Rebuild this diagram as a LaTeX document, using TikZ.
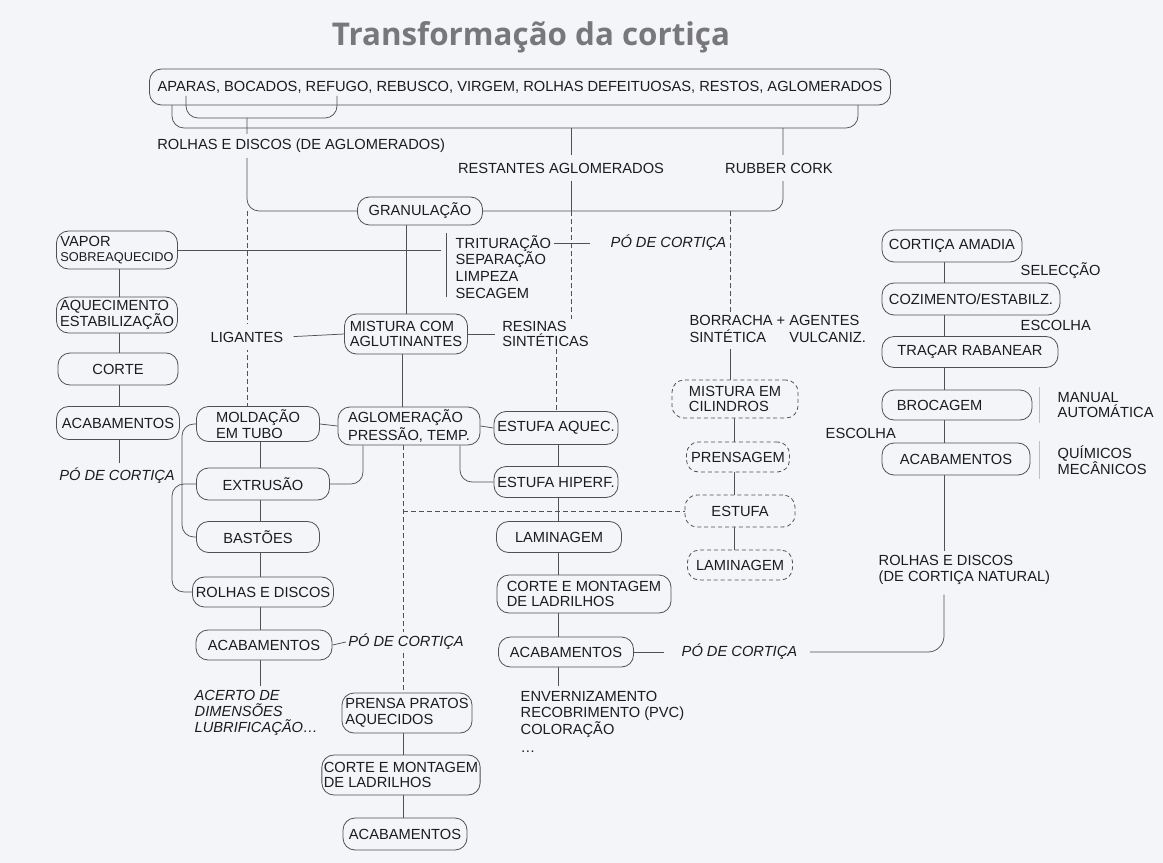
\documentclass[tikz,border=0pt]{standalone}
\usepackage{fontspec}
\setmainfont{Liberation Sans}
\newfontfamily\titlefont{Open Sans}
\usetikzlibrary{calc}
\definecolor{bg}{RGB}{244,245,248}
\definecolor{ink}{RGB}{28,28,30}
\definecolor{linec}{RGB}{80,80,85}
\definecolor{titlec}{RGB}{120,120,122}
\definecolor{faintc}{RGB}{190,190,195}
\pgfdeclarelayer{paper}
\pgfdeclarelayer{background}
\pgfsetlayers{paper,background,main}
\begin{document}
\begin{tikzpicture}[x=0.75pt,y=-0.75pt,
  every node/.style={font=\fontsize{11}{11.8}\selectfont, text=ink},
  box/.style={draw=linec, line width=0.6pt, rounded corners=9pt, inner xsep=2.5pt, inner ysep=1pt, fill=bg},
  dbox/.style={box, dash pattern=on 3pt off 2.2pt},
  wh/.style 2 args={minimum width=#1*0.75pt, minimum height=#2*0.75pt},
  lbl/.style={inner sep=1.5pt, fill=bg},
  it/.style={font=\fontsize{11}{11.8}\selectfont\itshape},
  con/.style={draw=linec, line width=0.55pt},
  dcon/.style={con, dash pattern=on 3.5pt off 2.5pt},
  faint/.style={draw=faintc, line width=0.6pt},
  rc/.style={rounded corners=9pt},
]
\begin{pgfonlayer}{paper}
\fill[bg] (0,0) rectangle (1163,863);
\end{pgfonlayer}
\useasboundingbox (0,0) rectangle (1163,863);

% title
\node[font=\titlefont\bfseries\fontsize{23.5}{27}\selectfont, text=titlec, anchor=base] (title) at (531,46) {Transformação da cortiça};

% nodes
\node[box, wh={741}{36}] (top) at (520,87) {APARAS, BOCADOS, REFUGO, REBUSCO, VIRGEM, ROLHAS DEFEITUOSAS, RESTOS, AGLOMERADOS};
\node[lbl, anchor=west, inner ysep=4pt] (rdAg) at (155,146) {ROLHAS E DISCOS (DE AGLOMERADOS)};
\node[lbl, inner ysep=6pt] (rest) at (561,168) {RESTANTES AGLOMERADOS};
\node[lbl, inner ysep=6pt] (rubber) at (779,168) {RUBBER CORK};
\node[box, wh={125}{28}] (gran) at (420,211) {GRANULAÇÃO};
\node[box, wh={121}{38}, align=left] (vapor) at (117,250) {VAPOR\\{\fontsize{9.6}{10}\selectfont SOBREAQUECIDO}};
\node[anchor=west, align=left, font=\fontsize{11}{12.6}\selectfont] (trit) at (451,267) {TRITURAÇÃO\\SEPARAÇÃO\\LIMPEZA\\SECAGEM};
\node[it, anchor=west] (pdc1) at (606,243) {PÓ DE CORTIÇA};
\node[box, wh={121}{36}, align=left] (aquec) at (117,315) {AQUECIMENTO\\ESTABILIZAÇÃO};
\node[lbl, inner ysep=6pt] (lig) at (247,337) {LIGANTES};
\node[box, wh={123}{40}, align=left] (mist) at (406,334) {MISTURA COM\\AGLUTINANTES};
\node[lbl, anchor=west, align=left] (resinas) at (500,334) {RESINAS\\SINTÉTICAS};
\node[anchor=west, inner sep=1pt] (borr) at (688,331) {\begin{tabular}{@{}l@{\hspace{3pt}}c@{\hspace{3pt}}l@{}}BORRACHA&+&AGENTES\\SINTÉTICA&&VULCANIZ.\end{tabular}};
\node[box, wh={120}{32}] (corte) at (118,369) {CORTE};
\node[box, wh={123}{33}] (acabL) at (118,423) {ACABAMENTOS};
\node[it] (pdc2) at (117,476) {PÓ DE CORTIÇA};
\node[box, wh={123}{35}, align=left] (mold) at (258,424) {MOLDAÇÃO\\EM TUBO};
\node[box, wh={142}{38}, align=left] (aglom) at (409,426) {AGLOMERAÇÃO\\PRESSÃO, TEMP.};
\node[box, wh={122}{33}] (estA) at (556,428) {ESTUFA AQUEC.};
\node[dbox, wh={126}{38}, align=left] (cil) at (735,399) {MISTURA EM\\CILINDROS};
\node[box, wh={140}{32}] (amadia) at (952,246) {CORTIÇA AMADIA};
\node[anchor=west] (selec) at (1016,271) {SELECÇÃO};
\node[box, wh={178}{32}] (coz) at (971,299) {COZIMENTO/ESTABILZ.};
\node[anchor=west] (esc1) at (1016,325) {ESCOLHA};
\node[box, wh={176}{31}] (tracar) at (970,352) {TRAÇAR RABANEAR};
\node[box, wh={150}{30}] (broc) at (957,405) {BROCAGEM\hspace*{26pt}};
\node[anchor=west, align=left] (manual) at (1053,405) {MANUAL\\AUTOMÁTICA};
\node[anchor=west] (esc2) at (821,433) {ESCOLHA};
\node[box, wh={148}{32}] (acabR) at (956,459) {ACABAMENTOS};
\node[anchor=west, align=left] (quim) at (1053,460) {QUÍMICOS\\MECÂNICOS};
\node[box, wh={133}{32}] (extr) at (263,484) {EXTRUSÃO};
\node[box, wh={122}{31}] (estH) at (556,482) {ESTUFA HIPERF.};
\node[dbox, wh={103}{30}] (prens) at (738,457) {PRENSAGEM};
\node[dbox, wh={110}{32}] (estufa) at (740,511) {ESTUFA};
\node[box, wh={123}{31}] (bast) at (258,537) {BASTÕES};
\node[box, wh={125}{31}] (lam) at (559,537) {LAMINAGEM};
\node[dbox, wh={105}{30}] (lamD) at (740,565) {LAMINAGEM};
\node[box, wh={140}{30}] (rolhas) at (263,592) {ROLHAS E DISCOS};
\node[box, wh={174}{38}, align=left] (cm1) at (584,594) {CORTE E MONTAGEM\\DE LADRILHOS};
\node[anchor=west, align=left] (rnat) at (874,570) {ROLHAS E DISCOS\\(DE CORTIÇA NATURAL)};
\node[box, wh={136}{30}] (acab2) at (264,645) {ACABAMENTOS};
\node[lbl, it, anchor=west] (pdc3) at (346,642) {PÓ DE CORTIÇA};
\node[box, wh={135}{30}] (acab3) at (566,652) {ACABAMENTOS};
\node[it, anchor=west] (pdc4) at (677,652) {PÓ DE CORTIÇA};
\node[it, anchor=west, align=left] (acerto) at (190,713) {ACERTO DE\\DIMENSÕES\\LUBRIFICAÇÃO…};
\node[box, wh={129}{40}, align=left] (prensa) at (407,713) {PRENSA PRATOS\\AQUECIDOS};
\node[anchor=west, align=left] (env) at (516,722) {ENVERNIZAMENTO\\RECOBRIMENTO (PVC)\\COLORAÇÃO\\[2pt]…};
\node[box, wh={157}{40}, align=left, inner xsep=1.5pt] (cm2) at (401,775) {CORTE E MONTAGEM\\DE LADRILHOS};
\node[box, wh={124}{32}] (acab4) at (405,834) {ACABAMENTOS};

% helper coordinates
\coordinate (ibL) at (186,96);
\coordinate (ibB) at (260,118);
\coordinate (ibR) at (337,96);
\coordinate (obL) at (172,105);
\coordinate (obB) at (520,128);
\coordinate (obR) at (858,105);
\coordinate (vend) at (441,0);
\coordinate (barT) at (446,233);
\coordinate (barB) at (446,297);
\coordinate (tl1) at (554,243);
\coordinate (tl2) at (590,243);
\coordinate (c119) at (119,0);
\coordinate (c172) at (172,0);
\coordinate (c182) at (182,0);
\coordinate (c247) at (247,0);
\coordinate (c260) at (260,0);
\coordinate (c363) at (363,0);
\coordinate (c402) at (402,0);
\coordinate (c403) at (403,0);
\coordinate (c460) at (460,0);
\coordinate (c558) at (558,0);
\coordinate (c571) at (571,0);
\coordinate (c730) at (730,0);
\coordinate (c734) at (734,0);
\coordinate (c783) at (783,0);
\coordinate (c944) at (944,0);

% inner bracket over the box bottom
\draw[con,rc] (ibL) |- (ibB) -| (ibR);

\begin{pgfonlayer}{background}
\draw[con,rc] (obL) |- (obB) -| (obR);
\draw[con,rc] (c247 |- ibB) |- (gran.west);
\draw[dcon] (c247 |- gran.west) -- (c247 |- mold.north);
\draw[con] (c571 |- obB) -- (c571 |- gran.east);
\draw[con,rc] (c783 |- obB) |- (gran.east);
\draw[dcon] (c571 |- gran.east) -- (c571 |- resinas.north);
\draw[dcon] (c730 |- gran.east) -- (c730 |- borr.north);
\draw[con] (mist.north |- gran.south) -- (mist.north);
\draw[con] (vapor.east) -- (vend |- vapor.east);
\draw[con] (barT) -- (barB);
\draw[con] (tl1) -- (tl2);
\draw[con, shorten <=6pt] (lig.east) -- (mist.west);
\draw[con, shorten >=4pt] (mist.east) -- (resinas.west);
\draw[con] (c402 |- mist.south) -- (c402 |- aglom.north);
\draw[dcon] (estA.north |- resinas.south) -- (estA.north);
\draw[con] (mold.east) -- (aglom.west);
\draw[con] (aglom.east) -- (estA.west);
\draw[con,rc] (c363 |- aglom.south) |- (extr.east);
\draw[con,rc] (c460 |- aglom.south) |- (estH.west);
\draw[dcon] (c403 |- aglom.south) -- (c403 |- prensa.north);
\draw[dcon] (c403 |- estufa.west) -- (estufa.west);
% left column
\draw[con] (vapor.south -| c119) -- (aquec.north -| c119);
\draw[con] (aquec.south -| c119) -- (corte.north -| c119);
\draw[con] (corte.south -| c119) -- (acabL.north -| c119);
\draw[con] (acabL.south -| c119) -- (pdc2.north -| c119);
% brackets on the left
\draw[con,rc] (mold.west) -| (c182 |- bast.west) -- (bast.west);
\draw[con,rc] (extr.west) -| (c172 |- rolhas.west) -- (rolhas.west);
% column 260
\draw[con] (mold.south -| c260) -- (extr.north -| c260);
\draw[con] (extr.south -| c260) -- (bast.north -| c260);
\draw[con] (bast.south -| c260) -- (rolhas.north -| c260);
\draw[con] (rolhas.south -| c260) -- (acab2.north -| c260);
\draw[con] (acab2.south -| c260) -- (acerto.north -| c260);
\draw[con] (acab2.east) -- (pdc3.west);
% column 558
\draw[con] (estA.south -| c558) -- (estH.north -| c558);
\draw[con] (estH.south -| c558) -- (lam.north -| c558);
\draw[con] (lam.south -| c558) -- (cm1.north -| c558);
\draw[con] (cm1.south -| c558) -- (acab3.north -| c558);
\draw[con] (acab3.south -| c558) -- (env.north -| c558);
\draw[con, shorten >=10pt] (acab3.east) -- (pdc4.west);
\draw[con, rounded corners=12pt, shorten <=4pt, shorten >=6pt] (rnat.south -| c944) |- (pdc4.east);
% right column
\draw[con] (amadia.south -| c944) -- (coz.north -| c944);
\draw[con] (coz.south -| c944) -- (tracar.north -| c944);
\draw[con] (tracar.south -| c944) -- (broc.north -| c944);
\draw[con] (broc.south -| c944) -- (acabR.north -| c944);
\draw[con] (acabR.south -| c944) -- (rnat.north -| c944);
\draw[faint] ([xshift=-10pt]manual.north west) -- ([xshift=-10pt]manual.south west);
\draw[faint] ([xshift=-10pt]quim.north west) -- ([xshift=-10pt]quim.south west);
% rubber chain
\draw[con] (borr.south -| c730) -- (cil.north -| c730);
\draw[con] (cil.south -| c734) -- (prens.north -| c734);
\draw[con] (prens.south -| c734) -- (estufa.north -| c734);
\draw[con] (estufa.south -| c734) -- (lamD.north -| c734);
% column 403 bottom
\draw[con] (prensa.south -| c403) -- (cm2.north -| c403);
\draw[con] (cm2.south -| c403) -- (acab4.north -| c403);
\end{pgfonlayer}
\end{tikzpicture}
\end{document}
